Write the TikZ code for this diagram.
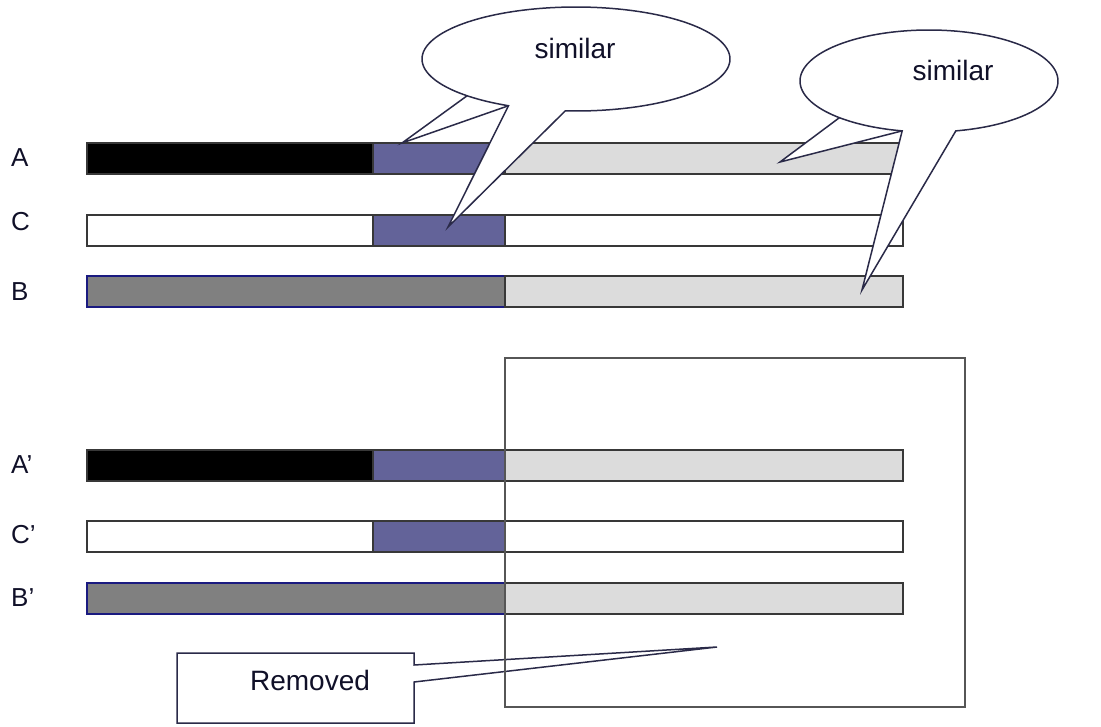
\documentclass[tikz,border=0pt]{standalone}
\usepackage{fontspec}
\setmainfont{Liberation Sans}
\definecolor{purp}{HTML}{636399}
\definecolor{lgray}{HTML}{DCDCDC}
\definecolor{mgray}{HTML}{808080}
\definecolor{edge}{HTML}{383838}
\definecolor{navy}{HTML}{1A1A80}
\definecolor{cline}{HTML}{2A2A48}
\definecolor{txt}{HTML}{101028}
\begin{document}
\begin{tikzpicture}[x=1pt,y=-1pt,
  seg/.style={draw=edge,line width=1.8pt,rectangle,inner sep=0pt,anchor=north west,minimum height=31pt},
  lbl/.style={anchor=west,inner sep=0pt,text=txt,font=\fontsize{26}{30}\selectfont},
  ctext/.style={inner sep=0pt,text=txt,font=\fontsize{28}{32}\selectfont},
  callout/.style={draw=cline,line width=1.5pt,fill=white,line join=miter},
  frame/.style={draw=edge!85,line width=1.8pt}]
\useasboundingbox (0,0) rectangle (1101,726);
% upper bars
\node[seg,fill=black,minimum width=286pt] (A1) at (86,142) {};
\node[seg,fill=purp,minimum width=132pt] (A2) at (372,142) {};
\node[seg,fill=lgray,minimum width=398pt] (A3) at (504,142) {};
\node[seg,fill=white,minimum width=286pt] (C1) at (86,214) {};
\node[seg,fill=purp,minimum width=132pt] (C2) at (372,214) {};
\node[seg,fill=white,minimum width=398pt] (C3) at (504,214) {};
\node[seg,fill=mgray,draw=navy,minimum width=418pt] (B1) at (86,275) {};
\node[seg,fill=lgray,minimum width=398pt] (B2) at (504,275) {};
% lower bars
\node[seg,fill=black,minimum width=286pt] (A1p) at (86,449) {};
\node[seg,fill=purp,minimum width=132pt] (A2p) at (372,449) {};
\node[seg,fill=lgray,minimum width=398pt] (A3p) at (504,449) {};
\node[seg,fill=white,minimum width=286pt] (C1p) at (86,520) {};
\node[seg,fill=purp,minimum width=132pt] (C2p) at (372,520) {};
\node[seg,fill=white,minimum width=398pt] (C3p) at (504,520) {};
\node[seg,fill=mgray,draw=navy,minimum width=418pt] (B1p) at (86,582) {};
\node[seg,fill=lgray,minimum width=398pt] (B2p) at (504,582) {};
% labels
\node[lbl] (lA) at (11,158) {A};
\node[lbl] (lC) at (11,222) {C};
\node[lbl] (lB) at (11,292) {B};
\node[lbl] (lAp) at (11,465) {A’};
\node[lbl] (lCp) at (11,535) {C’};
\node[lbl] (lBp) at (11,598) {B’};
% callout 1
\coordinate (t1a) at ({576+154*cos(135)},{59+52*sin(135)});
\coordinate (t1b) at ({576+154*cos(116)},{59+52*sin(116)});
\coordinate (tip1a) at (402,143);
\coordinate (tip1b) at (448,227);
\filldraw[callout] (t1a) -- (tip1a) -- (t1b);
\filldraw[callout] plot[domain=116:454,samples=150] ({576+154*cos(\x)},{59+52*sin(\x)}) -- (tip1b) -- cycle;
\node[ctext] (s1) at (575,48) {similar};
% callout 2
\coordinate (t2a) at ({929+129*cos(134)},{81+51*sin(134)});
\coordinate (t2b) at ({929+129*cos(102)},{81+51*sin(102)});
\coordinate (tip2a) at (780,162);
\coordinate (tip2b) at (862,290);
\filldraw[callout] (t2a) -- (tip2a) -- (t2b);
\filldraw[callout] plot[domain=102:438,samples=150] ({929+129*cos(\x)},{81+51*sin(\x)}) -- (tip2b) -- cycle;
\node[ctext] (s2) at (953,70) {similar};
% removed callout
\coordinate (rtip) at (717,647);
\filldraw[callout] (177,653) -- (414,653) -- (414,665) -- (rtip) -- (414,682) -- (414,723) -- (177,723) -- cycle;
\node[ctext] (rm) at (310,680) {Removed};
% removed frame
\node[frame,rectangle,inner sep=0pt,anchor=north west,minimum width=460pt,minimum height=349pt] (box) at (504,357) {};
\end{tikzpicture}
\end{document}
